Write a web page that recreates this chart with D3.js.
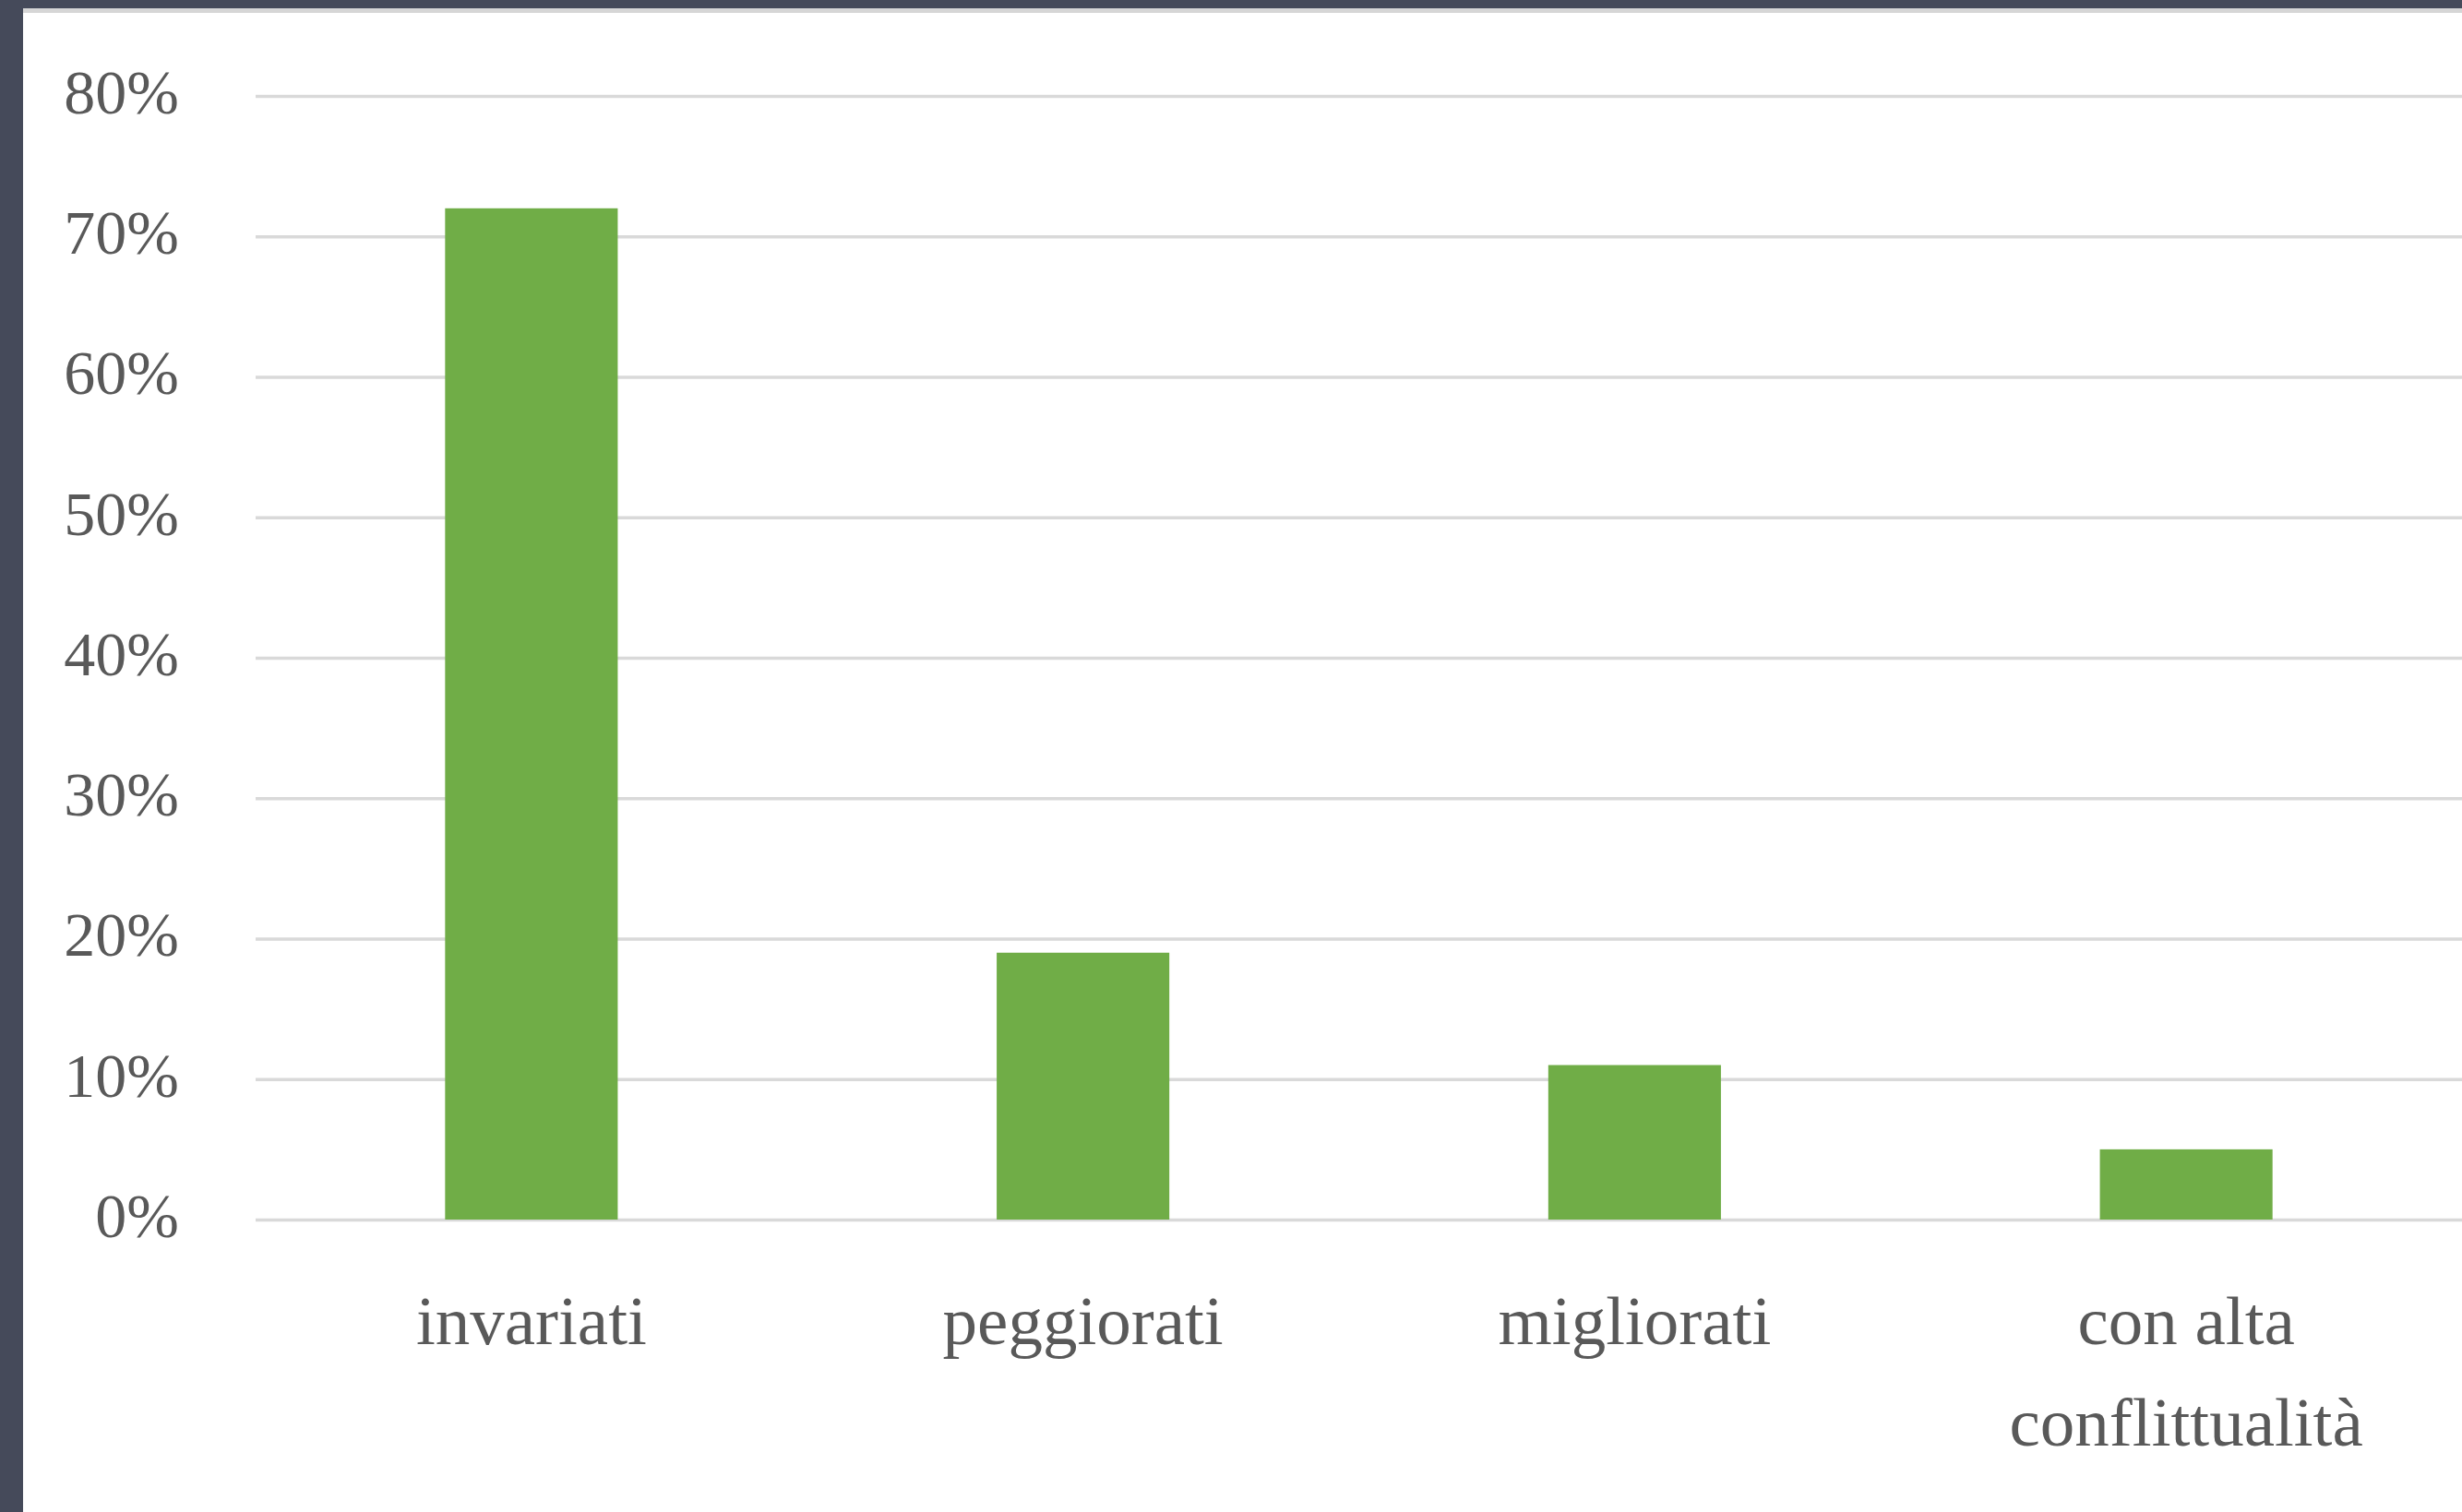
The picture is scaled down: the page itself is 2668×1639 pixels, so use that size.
<!DOCTYPE html>
<html>
<head>
<meta charset="utf-8">
<script src="https://cdn.jsdelivr.net/npm/d3@7"></script>
<style>
  html, body { margin: 0; padding: 0; background: #454a5a; }
  #chart { width: 2668px; height: 1639px; }
</style>
</head>
<body>
<div id="chart"></div>
<script>
const categories = ["invariati", "peggiorati", "migliorati", "con alta conflittualità"];
const values = [72, 19, 11, 5];
const yTicks = [0, 10, 20, 30, 40, 50, 60, 70, 80];

const width = 2668;
const height = 1639;
const margin = { top: 104, right: 0, bottom: 317, left: 277 };
const innerW = width - margin.left - margin.right;
const innerH = height - margin.top - margin.bottom;

const svg = d3.select("#chart")
  .append("svg")
  .attr("width", width)
  .attr("height", height);

// slide background + white panel
svg.append("rect").attr("width", width).attr("height", height).attr("fill", "#454a5a");
svg.append("rect").attr("x", 25).attr("y", 9).attr("width", width - 25).attr("height", 6).attr("fill", "#d6d6d6");
svg.append("rect").attr("x", 25).attr("y", 14).attr("width", width - 25).attr("height", height - 14).attr("fill", "#ffffff");

const g = svg.append("g").attr("transform", `translate(${margin.left},${margin.top})`);

const y = d3.scaleLinear().domain([0, 80]).range([innerH, 0]);
const x = d3.scaleBand()
  .domain(categories)
  .range([0, innerW])
  .paddingInner(0.687)
  .paddingOuter(0.3435);

// y axis with gridlines
const yAxis = g.append("g")
  .call(d3.axisLeft(y)
    .tickValues(yTicks)
    .tickSizeInner(-innerW)
    .tickSizeOuter(0)
    .tickPadding(83)
    .tickFormat(d => d + "%"));
yAxis.select(".domain").remove();
yAxis.selectAll(".tick line").attr("stroke", "#d9d9d9").attr("stroke-width", 3.5);
yAxis.selectAll(".tick text")
  .attr("fill", "#595959")
  .style("font-family", "'Liberation Serif', 'DejaVu Serif', serif")
  .style("font-size", "68px")
  .attr("dy", "0.27em");

// bars
g.selectAll(".bar")
  .data(values)
  .enter().append("rect")
  .attr("class", "bar")
  .attr("x", (d, i) => x(categories[i]))
  .attr("width", x.bandwidth())
  .attr("y", d => y(d))
  .attr("height", d => y(0) - y(d))
  .attr("fill", "#70ad47");

// x axis labels
const xAxis = g.append("g")
  .attr("transform", `translate(0,${innerH})`)
  .call(d3.axisBottom(x).tickSize(0));
xAxis.select(".domain").remove();

const wrapW = x.step() * 0.9;
xAxis.selectAll(".tick text")
  .attr("fill", "#595959")
  .style("font-family", "'Liberation Serif', 'DejaVu Serif', serif")
  .style("font-size", "75px")
  .attr("dy", null)
  .attr("y", 135)
  .each(function (d) {
    const text = d3.select(this);
    const words = d.split(" ");
    text.text(null);
    let line = [];
    let tspan = text.append("tspan").attr("x", 0).attr("dy", 0);
    words.forEach(w => {
      line.push(w);
      tspan.text(line.join(" "));
      if (tspan.node().getComputedTextLength() > wrapW && line.length > 1) {
        line.pop();
        tspan.text(line.join(" "));
        line = [w];
        tspan = text.append("tspan").attr("x", 0).attr("dy", 110).text(w);
      }
    });
  });
</script>
</body>
</html>
